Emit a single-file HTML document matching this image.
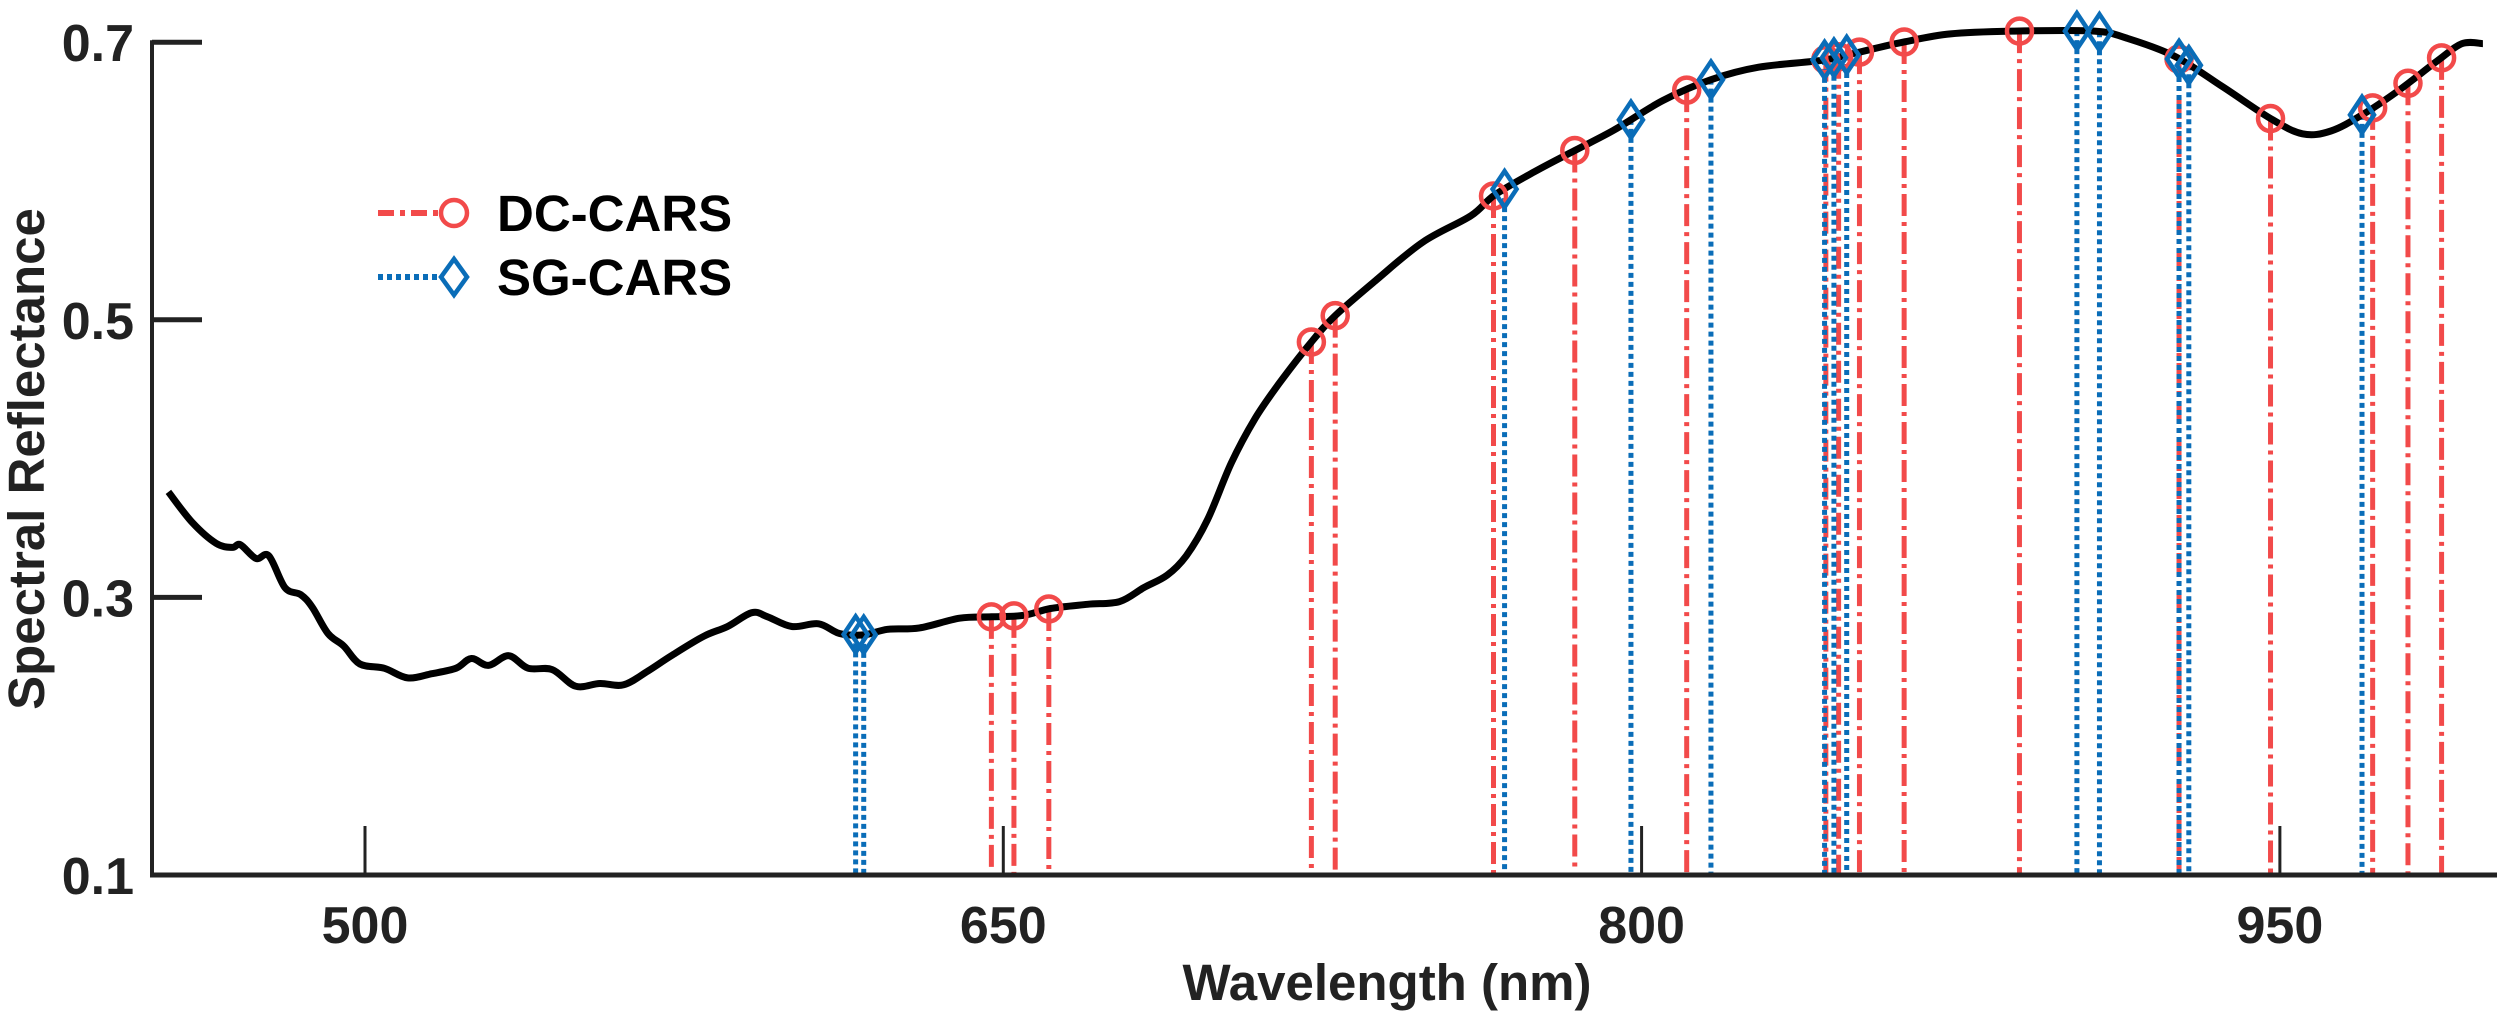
<!DOCTYPE html>
<html><head><meta charset="utf-8"><style>
html,body{margin:0;padding:0;background:#fff;}
svg{display:block;font-family:"Liberation Sans",Arial,sans-serif;font-weight:bold;}
</style></head><body>
<svg id="chart" width="2500" height="1024" viewBox="0 0 2500 1024">
<g id="marks"></g>
<g id="axes"></g>
<g id="legend">
  <g>
    <line x1="378" y1="213" x2="441" y2="213" stroke="#f24a4a" stroke-width="6" stroke-dasharray="16 6 5 6"/>
    <circle cx="454" cy="213" r="13" fill="none" stroke="#f24a4a" stroke-width="4.5"/>
    <text x="497" y="231" font-size="51" fill="#000">DC-CARS</text>
  </g>
  <g>
    <line x1="378" y1="277" x2="440" y2="277" stroke="#0a6db8" stroke-width="6" stroke-dasharray="5 4"/>
    <path d="M454 259 L467 277 L454 295 L441 277 Z" fill="none" stroke="#0a6db8" stroke-width="4.5"/>
    <text x="497" y="295" font-size="51" fill="#000">SG-CARS</text>
  </g>
</g>
</svg>
<script>
const curveWl = [453.8,459.4,465,468.8,470.7,474.4,477.4,481.2,484.9,487.6,491.3,495,498.8,504.5,510,515.7,521.4,525,529,533.8,538.3,544,549.5,555.2,560.8,566.5,572,579.6,585.2,590.9,594.6,600.3,606.6,611.5,617.2,622.8,630.3,639.7,647.2,654.7,661.1,669.8,677.3,683,688.5,693,698,703.6,709.2,714.8,722.4,728,737.4,748.6,759.9,765.5,775,784.3,793.7,805,816.3,827.5,842.6,850,861.4,872.6,887.6,906.4,913.9,925.2,936.5,947.8,955.3,962,969.5,977.8,987.2,992.8,997.7];
const curveVal = [0.376,0.354,0.339,0.336,0.338,0.328,0.330,0.307,0.302,0.293,0.274,0.265,0.252,0.249,0.242,0.245,0.249,0.256,0.251,0.258,0.249,0.248,0.236,0.238,0.237,0.247,0.258,0.272,0.279,0.289,0.286,0.279,0.281,0.274,0.273,0.277,0.278,0.285,0.286,0.287,0.292,0.295,0.297,0.307,0.316,0.330,0.356,0.397,0.429,0.454,0.484,0.503,0.528,0.556,0.575,0.590,0.607,0.622,0.637,0.658,0.673,0.682,0.687,0.692,0.700,0.706,0.708,0.708,0.703,0.690,0.668,0.645,0.634,0.636,0.648,0.665,0.687,0.699,0.699];
const dcWl = [647.2,652.5,660.7,722.4,728,765.2,784.3,810.6,843.3,846.3,851.2,861.7,888.8,926.3,947.8,971.8,980.1,988];
const sgWl = [615.3,617.2,767.8,797.5,816.3,843,845.2,848.2,902.3,907.6,926.3,928.6,969.3];
const xTicks = [500,650,800,950];
const yTicks = [0.1,0.3,0.5,0.7];

const NS="http://www.w3.org/2000/svg";
function X(w){return 365+(w-500)*4.2553;}
function Y(v){return 875-(v-0.1)*1388;}
function interp(w){
  if(w<=curveWl[0])return curveVal[0];
  for(let i=1;i<curveWl.length;i++){if(w<=curveWl[i]){const t=(w-curveWl[i-1])/(curveWl[i]-curveWl[i-1]);return curveVal[i-1]+t*(curveVal[i]-curveVal[i-1]);}}
  return curveVal[curveVal.length-1];
}
function mk(tag,attrs,parent){const e=document.createElementNS(NS,tag);for(const k in attrs)e.setAttribute(k,attrs[k]);parent.appendChild(e);return e;}
const marks=document.getElementById('marks');
const axes=document.getElementById('axes');

dcWl.forEach(w=>{
  const l=mk('line',{x1:X(w),x2:X(w),y1:Y(interp(w)),y2:875,stroke:'#f24a4a','stroke-width':5,'stroke-dasharray':'22 6 4 6'},marks);
  
  
});
sgWl.forEach(w=>{
  const l=mk('line',{x1:X(w),x2:X(w),y1:Y(interp(w)),y2:875,stroke:'#0a6db8','stroke-width':5,'stroke-dasharray':'5 4'},marks);
  
  
});
// smooth curve (Catmull-Rom)
const P=curveWl.map((w,i)=>[X(w),Y(curveVal[i])]);
let d='M'+P[0][0].toFixed(1)+' '+P[0][1].toFixed(1);
for(let i=0;i<P.length-1;i++){
  const p0=P[i-1]||P[i],p1=P[i],p2=P[i+1],p3=P[i+2]||P[i+1];
  const c1=[p1[0]+(p2[0]-p0[0])/6,p1[1]+(p2[1]-p0[1])/6];
  const c2=[p2[0]-(p3[0]-p1[0])/6,p2[1]-(p3[1]-p1[1])/6];
  d+=` C${c1[0].toFixed(1)} ${c1[1].toFixed(1)} ${c2[0].toFixed(1)} ${c2[1].toFixed(1)} ${p2[0].toFixed(1)} ${p2[1].toFixed(1)}`;
}
const c=mk('path',{d:d,fill:'none',stroke:'#000','stroke-width':7,'stroke-linejoin':'round'},marks);


dcWl.forEach(w=>{
  const m=mk('circle',{cx:X(w),cy:Y(interp(w)),r:12.5,fill:'none',stroke:'#f24a4a','stroke-width':4.5},marks);
  
  
});
sgWl.forEach(w=>{
  const x=X(w),y=Y(interp(w));
  const m=mk('path',{d:`M${x} ${y-18} L${x+12} ${y} L${x} ${y+18} L${x-12} ${y} Z`,fill:'none',stroke:'#0a6db8','stroke-width':4.5},marks);
  
  
});
const ys=mk('line',{x1:152,x2:152,y1:Y(0.7)-2,y2:877,stroke:'#222','stroke-width':4},axes);


const xs=mk('line',{x1:150,x2:2497,y1:875,y2:875,stroke:'#222','stroke-width':5},axes);


yTicks.forEach(v=>{
  const t=mk('line',{x1:152,x2:202,y1:Y(v),y2:Y(v),stroke:'#222','stroke-width':5},axes);
  
  
  const lb=mk('text',{x:134,y:Y(v)+19,'text-anchor':'end','font-size':52,fill:'#222'},axes);
  lb.textContent=v.toFixed(1);
  
  
});
xTicks.forEach(w=>{
  const t=mk('line',{x1:X(w),x2:X(w),y1:826,y2:875,stroke:'#222','stroke-width':3},axes);
  
  
  const lb=mk('text',{x:X(w),y:943,'text-anchor':'middle','font-size':52,fill:'#222'},axes);
  lb.textContent=String(w);
  
  
});
const xt=mk('text',{x:1387,y:1000,'text-anchor':'middle','font-size':51,fill:'#222'},axes);
xt.textContent='Wavelength (nm)';


const yt=mk('text',{x:0,y:0,'text-anchor':'middle','font-size':51,fill:'#222',transform:'translate(44 459) rotate(-90)'},axes);
yt.textContent='Spectral Reflectance';


</script>
</body></html>
